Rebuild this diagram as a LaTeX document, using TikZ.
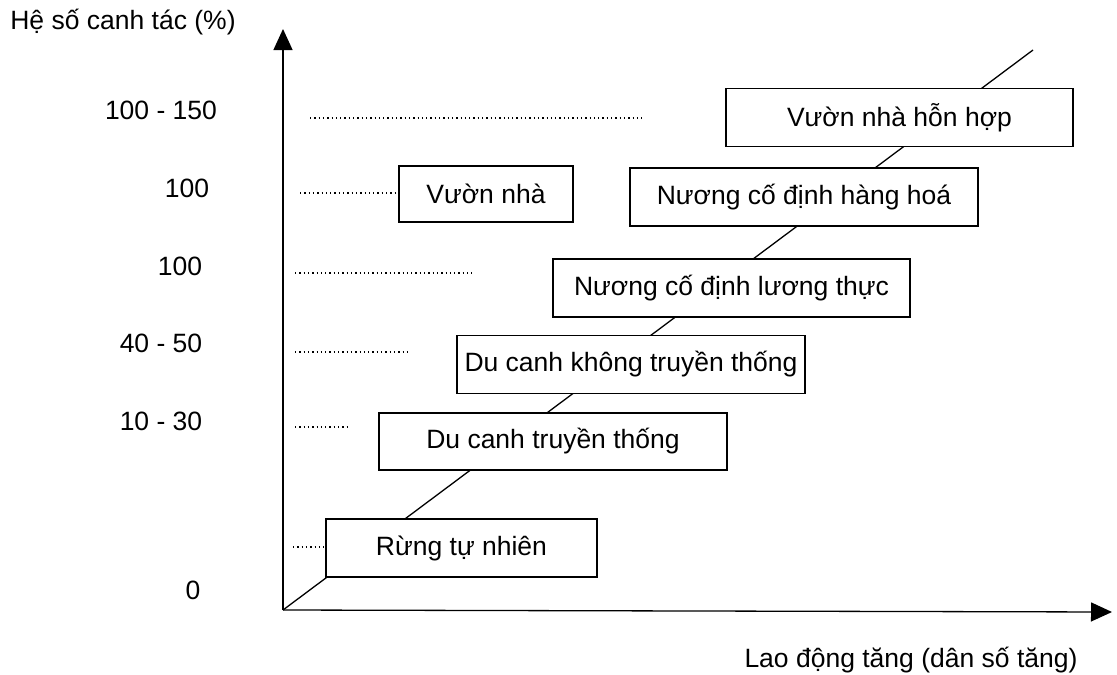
\documentclass[tikz,border=0pt]{standalone}
\usepackage{fontspec}
\setmainfont{Liberation Sans}
\usetikzlibrary{arrows.meta}
\begin{document}
\begin{tikzpicture}[x=1pt,y=-1pt,
  every node/.style={font=\fontsize{26.5}{30}\selectfont},
  box/.style={draw, line width=1.3pt, fill=white, inner sep=0pt},
  dots/.style={line width=1.3pt, dash pattern=on 1.3pt off 3pt},
  axis/.style={line width=1.3pt, -{Triangle[length=21pt,width=19pt]}},
  lbl/.style={inner sep=0pt}]
\useasboundingbox (0,0) rectangle (1117,675);
\coordinate (O) at (283,610);
\coordinate (Ytop) at (283,29);
\coordinate (Xend) at (1112,612);
\coordinate (Dend) at (1033,50);
\draw[line width=1.3pt] (O) -- (Dend);
\draw[axis] (O) -- (Ytop);
\draw[axis] (O) -- (Xend);
% labels
\node[lbl] (ylab) at (123,22) {Hệ số canh tác (\%)};
\node[lbl] (xlab) at (911,660) {Lao động tăng (dân số tăng)};
\node[lbl] (t1) at (161,110) {100 - 150};
\node[lbl] (t2) at (187,188) {100};
\node[lbl] (t3) at (180,266) {100};
\node[lbl] (t4) at (161,343) {40 - 50};
\node[lbl] (t5) at (161,421) {10 - 30};
\node[lbl] (t6) at (193,590) {0};
% boxes
\node[box, minimum width=347pt, minimum height=58pt] (b1) at (899.5,117.5) {Vườn nhà hỗn hợp};
\node[box, minimum width=174pt, minimum height=56pt] (b2) at (486,194) {Vườn nhà};
\node[box, minimum width=348pt, minimum height=58pt] (b3) at (804,197) {Nương cố định hàng hoá};
\node[box, minimum width=357pt, minimum height=58pt] (b4) at (731.5,288) {Nương cố định lương thực};
\node[box, minimum width=348pt, minimum height=58pt] (b5) at (631,364.5) {Du canh không truyền thống};
\node[box, minimum width=348pt, minimum height=57pt] (b6) at (553,441.5) {Du canh truyền thống};
\node[box, minimum width=271pt, minimum height=58pt] (b7) at (461.5,548) {Rừng tự nhiên};
% dotted guide lines
\coordinate (d1a) at (310,118); \coordinate (d1b) at (645,118);
\coordinate (d2a) at (300,193);
\coordinate (d3a) at (295,273); \coordinate (d3b) at (472,273);
\coordinate (d4a) at (295,352); \coordinate (d4b) at (408,352);
\coordinate (d5a) at (295,427); \coordinate (d5b) at (348,427);
\coordinate (d6a) at (293,547);
\draw[dots] (d1a) -- (d1b);
\draw[dots] (d2a) -- (b2.west |- d2a);
\draw[dots] (d3a) -- (d3b);
\draw[dots] (d4a) -- (d4b);
\draw[dots] (d5a) -- (d5b);
\draw[dots] (d6a) -- (b7.west |- d6a);
\end{tikzpicture}
\end{document}
